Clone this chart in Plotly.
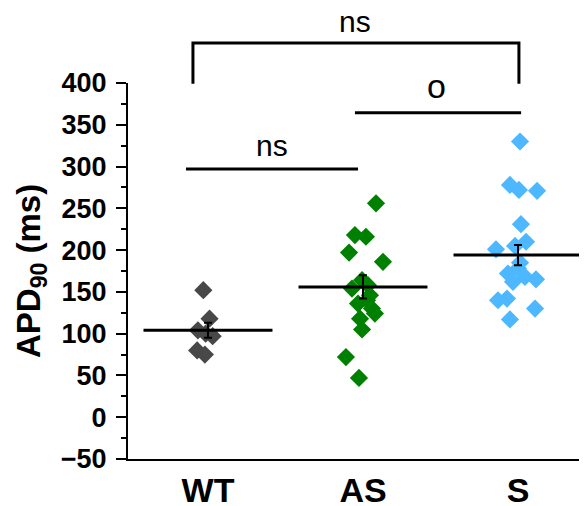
import plotly.graph_objects as go

groups = ["WT", "AS", "S"]
colors = ["#484848", "#008000", "#4DB8FF"]

wt_values = [152, 118, 104, 100, 97, 80, 75]
wt_offsets = [-0.03, 0.01, -0.065, -0.015, 0.03, -0.07, -0.02]

as_values = [256, 218, 216, 197, 186, 164, 158, 154, 146, 140, 136, 130, 124, 118, 105, 72, 47]
as_offsets = [0.084, -0.052, 0.019, -0.09, 0.129, -0.006, 0.032, -0.071, 0.045, 0.026,
              -0.032, 0.058, 0.077, -0.019, -0.006, -0.11, -0.026]

s_values = [330, 278, 272, 271, 231, 210, 201, 205, 185, 178, 172, 168, 165, 162, 142, 140, 130, 117]
s_offsets = [0.013, -0.052, 0.006, 0.123, 0.019, 0.052, -0.142, -0.019, 0.013, 0.0, -0.065,
             0.045, 0.116, -0.032, -0.071, -0.129, 0.11, -0.052]

means = [104, 156, 194]
sems = [9, 14, 12]

y_range = [-50, 400]
x_range = [-0.516, 2.4]

values = [wt_values, as_values, s_values]
offsets = [wt_offsets, as_offsets, s_offsets]

fig = go.Figure()

for i, (vals, offs) in enumerate(zip(values, offsets)):
    fig.add_trace(go.Scatter(
        x=[i + o for o in offs], y=vals, mode="markers",
        marker=dict(symbol="diamond", size=14, color=colors[i], line=dict(width=0)),
        showlegend=False, hoverinfo="y"))

half = 0.416
for i, m in enumerate(means):
    fig.add_trace(go.Scatter(
        x=[i - half, i + half], y=[m, m], mode="lines",
        line=dict(color="black", width=3), showlegend=False, hoverinfo="skip"))

fig.add_trace(go.Scatter(
    x=[0, 1, 2], y=means, mode="markers", marker=dict(size=1, color="rgba(0,0,0,0)"),
    error_y=dict(type="data", array=sems, visible=True, color="black", thickness=2, width=4),
    showlegend=False, hoverinfo="skip"))


def p(v):
    return (v - y_range[0]) / (y_range[1] - y_range[0])


# significance brackets
bracket_top = dict(x0=-0.097, x1=2.006, y_low=399, y_high=448)
fig.add_shape(type="path",
              path=f"M {bracket_top['x0']} {p(bracket_top['y_low'])} L {bracket_top['x0']} {p(bracket_top['y_high'])} "
                   f"L {bracket_top['x1']} {p(bracket_top['y_high'])} L {bracket_top['x1']} {p(bracket_top['y_low'])}",
              xref="x", yref="paper", line=dict(color="black", width=3))
fig.add_shape(type="line", x0=0.948, x1=2.02, y0=p(364.5), y1=p(364.5),
              xref="x", yref="paper", line=dict(color="black", width=3))
fig.add_shape(type="line", x0=-0.142, x1=0.968, y0=p(297), y1=p(297),
              xref="x", yref="paper", line=dict(color="black", width=3))

font_txt = dict(family="Liberation Sans, Arial", size=30, color="black")
fig.add_annotation(x=0.948, y=p(473.5), xref="x", yref="paper", text="ns", showarrow=False,
                   font=font_txt, yanchor="middle")
fig.add_annotation(x=1.477, y=p(397), xref="x", yref="paper", text="o", showarrow=False,
                   font=dict(family="Liberation Sans, Arial", size=34, color="black"), yanchor="middle")
fig.add_annotation(x=0.413, y=p(325), xref="x", yref="paper", text="ns", showarrow=False,
                   font=font_txt, yanchor="middle")

fig.add_annotation(x=0, y=p(175), xref="paper", yref="paper", xshift=-97,
                   text="<b>APD<sub>90</sub> (ms)</b>", textangle=-90, showarrow=False,
                   font=dict(family="Liberation Sans, Arial", size=33, color="black", weight="bold"),
                   xanchor="center", yanchor="middle")

fig.update_layout(
    width=587, height=506,
    margin=dict(l=120, r=15, t=75, b=55),
    plot_bgcolor="white", paper_bgcolor="white",
    xaxis=dict(range=x_range, tickvals=[0, 1, 2], ticktext=groups, showgrid=False,
               zeroline=False, showline=True, linecolor="black", linewidth=2, ticks="",
               automargin=False,
               tickfont=dict(family="Liberation Sans, Arial", size=34, color="black", weight="bold"),
               ticklabelstandoff=0),
    yaxis=dict(range=y_range, tickvals=list(range(-50, 401, 50)), showgrid=False,
               zeroline=False, showline=True, linecolor="black", linewidth=2,
               automargin=False,
               ticks="outside", ticklen=10, tickwidth=2, tickcolor="black",
               minor=dict(ticks="outside", ticklen=5, tickwidth=2, tickcolor="black", dtick=25),
               tickfont=dict(family="Liberation Sans, Arial", size=27, color="black", weight="bold"),
               ticklabelstandoff=4),
)

fig.write_html("out.html")
